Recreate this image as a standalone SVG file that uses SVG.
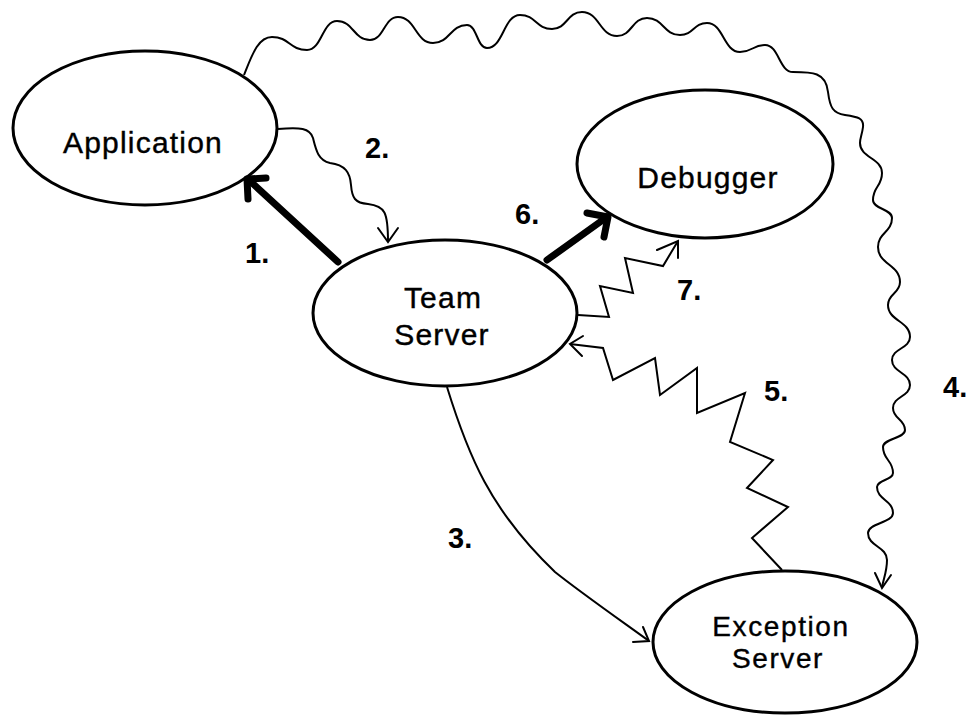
<svg xmlns="http://www.w3.org/2000/svg" width="972" height="715" viewBox="0 0 972 715">
<style>
.node{fill:#fff;stroke:#000;stroke-width:3}
.nt{font-family:"Liberation Sans",Arial,sans-serif;font-size:30px;letter-spacing:1.2px;text-anchor:middle;fill:#000;stroke:#000;stroke-width:0.4}
.nt2{font-size:28px;letter-spacing:1.6px}
.lb{font-family:"Liberation Sans",Arial,sans-serif;font-size:29px;font-weight:bold;fill:#000}
.thin{fill:none;stroke:#000;stroke-width:2;stroke-linejoin:miter}
.thick{fill:none;stroke:#000;stroke-width:7;stroke-linecap:round;stroke-linejoin:round}
.head{fill:none;stroke:#000;stroke-width:2;stroke-linecap:round}
</style>
<rect width="972" height="715" fill="#fff"/>
<g id="application"><ellipse class="node" cx="145" cy="128" rx="132" ry="77"/><text class="nt" x="143" y="153">Application</text></g>
<g id="team-server"><ellipse class="node" cx="445" cy="313" rx="132" ry="73"/><text class="nt" x="443" y="308">Team</text><text class="nt" x="442" y="345">Server</text></g>
<g id="debugger"><ellipse class="node" cx="705" cy="164" rx="128" ry="74"/><text class="nt" x="708" y="188">Debugger</text></g>
<g id="exception-server"><ellipse class="node" cx="785" cy="642" rx="132" ry="71"/><text class="nt nt2" x="781" y="636">Exception</text><text class="nt nt2" x="778" y="668">Server</text></g>
<g id="connectors">
<path class="thick" d="M338,262 L250,181"/>
<path class="thick" d="M248,199 L247,179 L266,178"/>
<path class="thick" d="M547,260 L607,217"/>
<path class="thick" d="M587,213 L608,217 L604,237"/>
<path class="thin" d="M278,129 C300,127 310,128 313,138 C316,150 318,160 330,163 C345,165 350,172 351,185 C352,198 355,203 368,204 C385,206 388,212 388,242"/>
<path class="head" d="M378,228 L388,242 L398,228"/>
<path class="thin" d="M447,387 C468,455 490,510 555,572 C580,592 620,620 649,641"/>
<path class="head" d="M633,642 L649,641 L643,627"/>
<path class="thin" d="M244,75 C252,55 258,37 272,37 C289.5,37 289.5,50 307,50 C322,50 322,21 337,21 C353.5,21 353.5,40 370,40 C384,40 384,17 398,17 C415.5,17 415.5,43 433,43 C450,43 450,25 467,25 C477,25 477,48 487,48 C503.5,48 503.5,15 520,15 C536,15 536,29 552,29 C567,29 567,12 582,12 C599.5,12 599.5,36 617,36 C632,36 632,18 647,18 C663.5,18 663.5,35 680,35 C693.5,35 693.5,23 707,23 C723.5,23 723.5,52 740,52 C752.5,52 752.5,45 765,45 C779,45 779,72 793,72 C812,72 826,72 828,92 C830,108 833,113 845,115 C858,117 864,118 863,127 C862,135 860,138 860,143 C860,158 882,158 882,173 C882,186.5 873,186.5 873,200 C873,209 892,209 892,218 C892,232.5 878,232.5 878,247 C878,264.5 900,264.5 900,282 C900,293.5 888,293.5 888,305 C888,321 910,321 910,337 C910,348.5 892,348.5 892,360 C892,372.5 910,372.5 910,385 C910,396.5 893,396.5 893,408 C893,419 905,419 905,430 C905,438.5 883,438.5 883,447 C883,460 893,460 893,473 C893,480 877,480 877,487 C877,500 893,500 893,513 C893,523 868,523 868,533 C868,546.5 887,546.5 887,560 C887,572 883,580 882,588"/>
<path class="head" d="M875,573 L882,588 L891,575"/>
<polyline class="thin" points="578,315 609,317 600,286 633,293 625,258 663,266 678,241"/>
<path class="head" d="M657,250 L678,241 L678,258"/>
<polyline class="thin" points="782,570 752,538 788,507 747,488 773,460 730,442 745,393 697,413 697,368 660,395 655,358 613,380 603,348 570,344"/>
<path class="head" d="M583,336 L570,344 L582,356"/>
</g>
<g id="labels">
<text class="lb" x="245" y="263">1.</text>
<text class="lb" x="365" y="158">2.</text>
<text class="lb" x="448" y="548">3.</text>
<text class="lb" x="943" y="397">4.</text>
<text class="lb" x="764" y="401">5.</text>
<text class="lb" x="515" y="224">6.</text>
<text class="lb" x="677" y="300">7.</text>
</g>
</svg>
